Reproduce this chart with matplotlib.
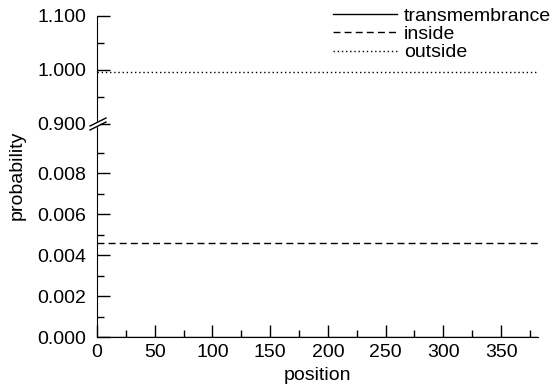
import numpy as np
import matplotlib.pyplot as plt
from matplotlib.lines import Line2D

plt.rcParams['font.family'] = ['Liberation Sans', 'DejaVu Sans']

# data: constant probabilities along the sequence
n_pos = 382
position = np.arange(0, n_pos + 1)
p_trans = np.full(len(position), 0.0)
p_inside = np.full(len(position), 0.0046)
p_outside = np.full(len(position), 0.9954)

series = ['transmembrance', 'inside', 'outside']
styles = ['-', (0, (5, 3)), (0, (1, 2))]

W, H = 553, 387
fig = plt.figure(figsize=(W / 100, H / 100), dpi=100)

left, right = 97 / W, 538 / W
ax_lo = fig.add_axes([left, (H - 337) / H, right - left, 213 / H])
ax_hi = fig.add_axes([left, (H - 124) / H, right - left, 108 / H])

for ax in (ax_lo, ax_hi):
    for s, y, ls in zip(series, [p_trans, p_inside, p_outside], styles):
        ax.plot(position, y, color='black', lw=1.0, linestyle=ls, label=s)
    ax.set_xlim(0, n_pos)
    ax.spines['top'].set_visible(False)
    ax.spines['right'].set_visible(False)
    ax.tick_params(which='major', direction='in', length=9, width=1, labelsize=14)
    ax.tick_params(which='minor', direction='in', length=5, width=1)
    ax.tick_params(axis='y', which='major', pad=8)
    ax.tick_params(axis='x', which='major', pad=5)
    ax.set_facecolor('none')

ax_lo.set_ylim(0, 0.0104)
ax_lo.set_yticks(np.arange(0, 0.0081, 0.002))
ax_lo.set_yticks([0.001, 0.003, 0.005, 0.007, 0.009], minor=True)
ax_lo.set_yticklabels(['%.3f' % v for v in np.arange(0, 0.0081, 0.002)])
ax_lo.set_xticks(np.arange(0, 351, 50))
ax_lo.set_xticks(np.arange(25, 381, 25), minor=True)
ax_lo.set_xlabel('position', fontsize=14, labelpad=4)

ax_hi.set_ylim(0.9, 1.1)
ax_hi.set_yticks([0.9, 1.0, 1.1])
ax_hi.set_yticklabels(['0.900', '1.000', '1.100'])
ax_hi.set_yticks([0.95, 1.05], minor=True)
ax_hi.spines['bottom'].set_visible(False)
ax_hi.tick_params(axis='x', which='both', bottom=False, labelbottom=False)

fig.text(17 / W, 1 - 175 / H, 'probability', rotation=90, fontsize=14,
         ha='center', va='center')

# axis break mark
yb = 124
fig.patches.append(plt.Rectangle(((97 - 1.5) / W, 1 - (yb + 2) / H), 3 / W, 4 / H,
                                 transform=fig.transFigure, color='white', zorder=5))
for dy in (-2, 2):
    fig.lines.append(Line2D([(90) / W, (106) / W],
                            [1 - (yb + dy + 4) / H, 1 - (yb + dy - 4) / H],
                            transform=fig.transFigure, color='black', lw=1, zorder=6))

ax_hi.legend(loc='upper right', bbox_to_anchor=(551 / W, 1.0 - 7 / H),
             bbox_transform=fig.transFigure, frameon=False, fontsize=14,
             handlelength=3.3, handletextpad=0.36, labelspacing=0.04,
             borderaxespad=0, borderpad=0)

fig.savefig('out.png', dpi=100)
